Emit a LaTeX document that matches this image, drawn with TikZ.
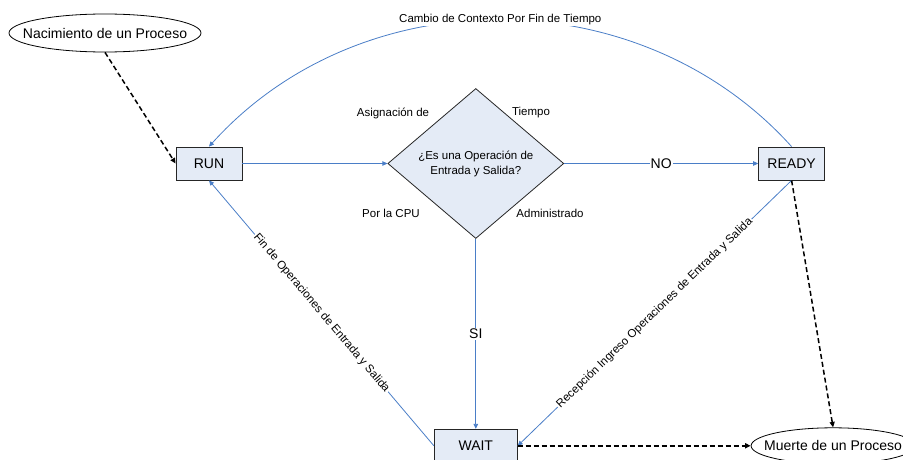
\documentclass[tikz,border=0pt]{standalone}
\usepackage{fontspec}
\setmainfont{Liberation Sans}
\usetikzlibrary{arrows.meta,positioning,shapes.geometric}
\definecolor{flow}{HTML}{4A7EC7}
\definecolor{boxfill}{HTML}{E4EBF6}

\begin{document}
\begin{tikzpicture}[x=1pt,y=-1pt,
  st/.style={draw=black!85,line width=0.8pt,fill=boxfill,minimum width=66pt,minimum height=33pt,inner sep=0pt,font=\fontsize{14}{16}\selectfont},
  dec/.style={diamond,draw=black!85,line width=0.8pt,fill=boxfill,minimum width=176pt,minimum height=150pt,aspect=1.17,inner sep=1pt,align=center,font=\fontsize{11.5}{15}\selectfont},
  ev/.style={ellipse,draw,line width=0.8pt,inner xsep=-20pt,inner ysep=3pt,minimum height=38pt,font=\fontsize{14}{16}\selectfont},
  lb/.style={font=\fontsize{11.5}{13}\selectfont,inner sep=1pt,text=black},
  el/.style={lb,fill=white},
  big/.style={el,font=\fontsize{14}{16}\selectfont},
  ar/.style={-{Triangle[length=5pt,width=4.5pt]},flow,line width=0.8pt},
  da/.style={-{Triangle[length=5.5pt,width=5pt]},black,line width=1.5pt,dash pattern=on 5pt off 3pt}]
\useasboundingbox (0,0) rectangle (903,460);

% estados
\node[st] (run) at (209,163.5) {RUN};
\node[dec,right=145pt of run] (dec) {¿Es una Operación de\\Entrada y Salida?};
\node[st,right=194pt of dec] (ready) {READY};
\node[st,below=190pt of dec,minimum width=83pt] (wait) {WAIT};
\node[ev,minimum width=192pt] (nac) at (105,33) {Nacimiento de un Proceso};
\node[ev,right=233pt of wait,minimum width=164pt,minimum height=36pt] (muerte) {Muerte de un Proceso};

% textos junto al rombo
\node[lb] (asig) at (393,113) {Asignación de};
\node[lb] (tiem) at (531,113) {Tiempo};
\node[lb] (cpu) at (391,213) {Por la CPU};
\node[lb] (adm) at (550,213) {Administrado};

% transiciones
\draw[da] (nac.south) -- (run.west);
\draw[ar] (run) -- (dec);
\draw[ar] (dec) -- node[big] {NO} (ready);
\draw[ar] (dec) -- node[big] {SI} (wait);
\draw[ar] (ready.north) to[out=132,in=48] node[el] {Cambio de Contexto Por Fin de Tiempo} (run.north);
\draw[ar] (wait.west) -- node[el,sloped] {Fin de Operaciones de Entrada y Salida} (run.south);
\draw[ar] (ready.south) -- node[el,sloped] {Recepción Ingreso Operaciones de Entrada y Salida} (wait.east);
\draw[da] (ready.south) -- (muerte.north);
\draw[da] (wait) -- (muerte);
\end{tikzpicture}
\end{document}
